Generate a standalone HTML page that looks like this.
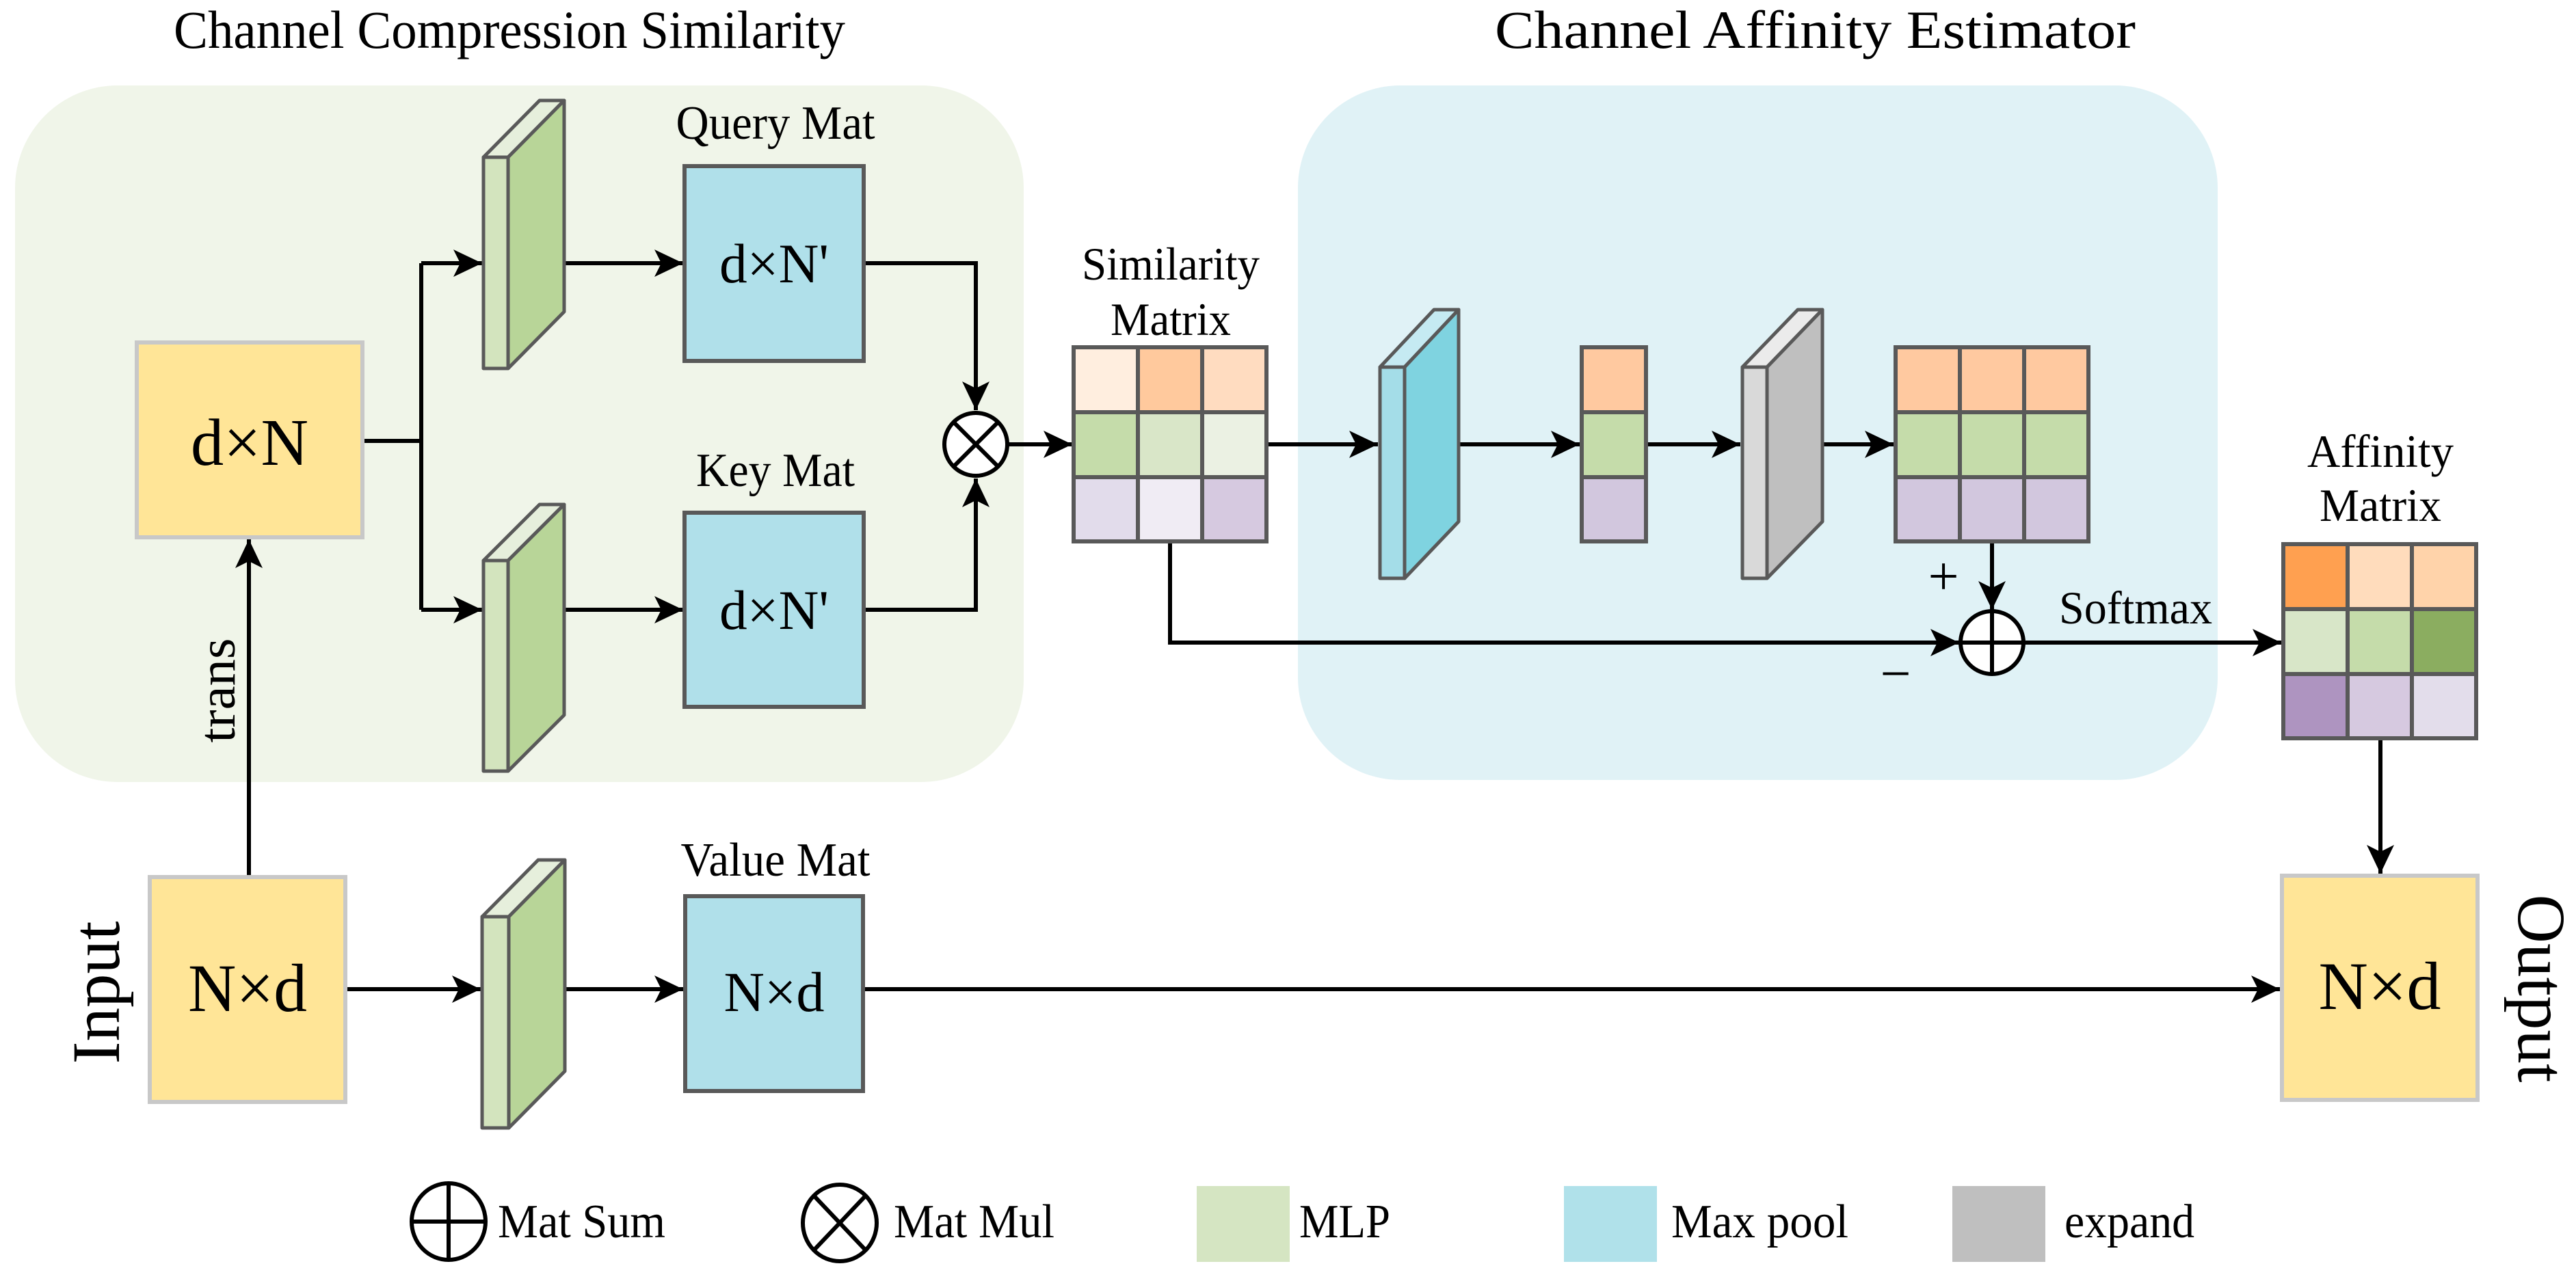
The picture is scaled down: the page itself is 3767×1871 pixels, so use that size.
<!DOCTYPE html>
<html><head><meta charset="utf-8"><style>
html,body{margin:0;padding:0;background:#fff}
svg{display:block}
text{font-family:"Liberation Serif","Times New Roman",Times,serif;fill:#000}
</style></head><body>
<svg width="3767" height="1871" viewBox="0 0 3767 1871" xmlns="http://www.w3.org/2000/svg" font-family="Liberation Serif, Times New Roman, serif">
<defs>
<marker id="ah" markerUnits="userSpaceOnUse" markerWidth="60" markerHeight="60" refX="44" refY="22" orient="auto">
<path d="M44,22 L2,2 L12,22 L2,42 Z" fill="#000"/>
</marker>
</defs>
<rect x="22" y="125" width="1475" height="1019" rx="150" fill="#F0F5E9"/>
<rect x="1898" y="125" width="1345" height="1016" rx="150" fill="#E0F2F6"/>
<text x="254" y="70" font-size="78" textLength="982" lengthAdjust="spacingAndGlyphs">Channel Compression Similarity</text>
<text x="2186" y="70" font-size="78" textLength="937" lengthAdjust="spacingAndGlyphs">Channel Affinity Estimator</text>

<g stroke="#000" stroke-width="6" fill="none">
<polyline points="530,645 616,645"/>
<polyline points="616,385 616,892"/>
<line x1="616" y1="385" x2="705" y2="385" marker-end="url(#ah)"/>
<line x1="616" y1="892" x2="705" y2="892" marker-end="url(#ah)"/>
<line x1="825" y1="385" x2="999" y2="385" marker-end="url(#ah)"/>
<line x1="825" y1="892" x2="999" y2="892" marker-end="url(#ah)"/>
<polyline points="1263,385 1427,385 1427,600" marker-end="url(#ah)"/>
<polyline points="1263,892 1427,892 1427,700" marker-end="url(#ah)"/>
<line x1="1474" y1="650" x2="1568" y2="650" marker-end="url(#ah)"/>
<line x1="1852" y1="650" x2="2015" y2="650" marker-end="url(#ah)"/>
<line x1="2133" y1="650" x2="2310" y2="650" marker-end="url(#ah)"/>
<line x1="2407" y1="650" x2="2545" y2="650" marker-end="url(#ah)"/>
<line x1="2665" y1="650" x2="2769" y2="650" marker-end="url(#ah)"/>
<line x1="2913" y1="792" x2="2913" y2="892" marker-end="url(#ah)"/>
<polyline points="1711,792 1711,940 2865,940" marker-end="url(#ah)"/>
<line x1="2960" y1="940" x2="3336" y2="940" marker-end="url(#ah)"/>
<line x1="3481" y1="1080" x2="3481" y2="1278" marker-end="url(#ah)"/>
<line x1="505" y1="1447" x2="703" y2="1447" marker-end="url(#ah)"/>
<line x1="826" y1="1447" x2="999" y2="1447" marker-end="url(#ah)"/>
<line x1="1262" y1="1447" x2="3334" y2="1447" marker-end="url(#ah)"/>
<line x1="364" y1="1283" x2="364" y2="789" marker-end="url(#ah)"/>
</g>

<g stroke-width="6">
<rect x="200" y="501" width="330" height="285" fill="#FFE597" stroke="#C8C8C8"/>
<rect x="219" y="1283" width="286" height="329" fill="#FFE597" stroke="#C8C8C8"/>
<rect x="3337" y="1281" width="286" height="328" fill="#FFE597" stroke="#C8C8C8"/>
<rect x="1001" y="243" width="262" height="285" fill="#B0E0EA" stroke="#595959"/>
<rect x="1001" y="750" width="262" height="284" fill="#B0E0EA" stroke="#595959"/>
<rect x="1002" y="1311" width="260" height="285" fill="#B0E0EA" stroke="#595959"/>
</g>

<g stroke="#595959" stroke-width="5" stroke-linejoin="round">
<polygon points="707,230 743,230 825,147 789,147" fill="#E6EFDC"/>
<polygon points="743,230 825,147 825,456 743,539" fill="#B8D598"/>
<rect x="707" y="230" width="36" height="309" fill="#D3E4BE"/>
<polygon points="707,820 743,820 825,738 789,738" fill="#E6EFDC"/>
<polygon points="743,820 825,738 825,1046 743,1128" fill="#B8D598"/>
<rect x="707" y="820" width="36" height="308" fill="#D3E4BE"/>
<polygon points="705,1341 744,1341 826,1258 787,1258" fill="#E6EFDC"/>
<polygon points="744,1341 826,1258 826,1567 744,1650" fill="#B8D598"/>
<rect x="705" y="1341" width="39" height="309" fill="#D3E4BE"/>
<polygon points="2018,537 2054,537 2133,453 2097,453" fill="#C5EAF2"/>
<polygon points="2054,537 2133,453 2133,763 2054,846" fill="#7FD3E0"/>
<rect x="2018" y="537" width="36" height="309" fill="#A4DDE8"/>
<polygon points="2548,537 2584,537 2665,453 2629,453" fill="#EBEBEB"/>
<polygon points="2584,537 2665,453 2665,763 2584,846" fill="#BFBFBF"/>
<rect x="2548" y="537" width="36" height="309" fill="#D9D9D9"/>
</g>

<g stroke="#595959" stroke-width="6">
<rect x="1570" y="508" width="94" height="95" fill="#FFEEDF"/><rect x="1664" y="508" width="94" height="95" fill="#FFC99D"/><rect x="1758" y="508" width="94" height="95" fill="#FFDCC0"/>
<rect x="1570" y="603" width="94" height="95" fill="#C5DCAA"/><rect x="1664" y="603" width="94" height="95" fill="#D9E6C8"/><rect x="1758" y="603" width="94" height="95" fill="#EBF1E3"/>
<rect x="1570" y="698" width="94" height="94" fill="#E2DCEB"/><rect x="1664" y="698" width="94" height="94" fill="#F0ECF4"/><rect x="1758" y="698" width="94" height="94" fill="#D6C9E0"/>
<rect x="2313" y="508" width="94" height="95" fill="#FFC9A0"/>
<rect x="2313" y="603" width="94" height="95" fill="#C5DCAA"/>
<rect x="2313" y="698" width="94" height="94" fill="#D2C7DE"/>
<rect x="2772" y="508" width="94" height="95" fill="#FFC9A0"/><rect x="2866" y="508" width="94" height="95" fill="#FFC9A0"/><rect x="2960" y="508" width="94" height="95" fill="#FFC9A0"/>
<rect x="2772" y="603" width="94" height="95" fill="#C5DCAA"/><rect x="2866" y="603" width="94" height="95" fill="#C5DCAA"/><rect x="2960" y="603" width="94" height="95" fill="#C5DCAA"/>
<rect x="2772" y="698" width="94" height="94" fill="#D2C7DE"/><rect x="2866" y="698" width="94" height="94" fill="#D2C7DE"/><rect x="2960" y="698" width="94" height="94" fill="#D2C7DE"/>
<rect x="3339" y="796" width="94" height="95" fill="#FFA050"/><rect x="3433" y="796" width="94" height="95" fill="#FFDCBC"/><rect x="3527" y="796" width="94" height="95" fill="#FFD3AA"/>
<rect x="3339" y="891" width="94" height="95" fill="#D8E6C8"/><rect x="3433" y="891" width="94" height="95" fill="#C5DCAA"/><rect x="3527" y="891" width="94" height="95" fill="#8BAD60"/>
<rect x="3339" y="986" width="94" height="94" fill="#AE94C0"/><rect x="3433" y="986" width="94" height="94" fill="#D6C9E0"/><rect x="3527" y="986" width="94" height="94" fill="#E3DDEB"/>
</g>

<g stroke="#000" stroke-width="6" fill="#fff">
<circle cx="1427" cy="650" r="46"/>
<line x1="1394" y1="617" x2="1460" y2="683"/><line x1="1460" y1="617" x2="1394" y2="683"/>
<circle cx="2913" cy="940" r="46"/>
<line x1="2867" y1="940" x2="2959" y2="940"/><line x1="2913" y1="894" x2="2913" y2="986"/>
<ellipse cx="656" cy="1787" rx="54" ry="56"/>
<line x1="602" y1="1787" x2="710" y2="1787"/><line x1="656" y1="1731" x2="656" y2="1843"/>
<ellipse cx="1228" cy="1789" rx="54" ry="56"/>
<line x1="1190" y1="1749" x2="1266" y2="1829"/><line x1="1266" y1="1749" x2="1190" y2="1829"/>
</g>
<rect x="1750" y="1735" width="136" height="111" fill="#D5E5C2"/>
<rect x="2287" y="1735" width="136" height="111" fill="#B0E1EA"/>
<rect x="2855" y="1735" width="136" height="111" fill="#BFBFBF"/>

<g text-anchor="middle" lengthAdjust="spacingAndGlyphs">
<text x="365" y="680" font-size="98" textLength="172" lengthAdjust="spacingAndGlyphs">d×N</text>
<text x="1132" y="413" font-size="82" textLength="160" lengthAdjust="spacingAndGlyphs">d×N'</text>
<text x="1132" y="920" font-size="82" textLength="160" lengthAdjust="spacingAndGlyphs">d×N'</text>
<text x="1132" y="1479" font-size="83" textLength="147" lengthAdjust="spacingAndGlyphs">N×d</text>
<text x="362" y="1479" font-size="100" textLength="174" lengthAdjust="spacingAndGlyphs">N×d</text>
<text x="3480" y="1476" font-size="100" textLength="179" lengthAdjust="spacingAndGlyphs">N×d</text>
<text x="1134" y="203" font-size="70" textLength="291" lengthAdjust="spacingAndGlyphs">Query Mat</text>
<text x="1134" y="711" font-size="70" textLength="232" lengthAdjust="spacingAndGlyphs">Key Mat</text>
<text x="1134" y="1281" font-size="70" textLength="277" lengthAdjust="spacingAndGlyphs">Value Mat</text>
<text x="1712" y="409" font-size="68" textLength="260" lengthAdjust="spacingAndGlyphs">Similarity</text>
<text x="1712" y="490" font-size="68" textLength="176" lengthAdjust="spacingAndGlyphs">Matrix</text>
<text x="3481" y="683" font-size="68" textLength="214" lengthAdjust="spacingAndGlyphs">Affinity</text>
<text x="3481" y="762" font-size="68" textLength="178" lengthAdjust="spacingAndGlyphs">Matrix</text>
<text transform="translate(174,1452) rotate(-90)" font-size="100" textLength="209" lengthAdjust="spacingAndGlyphs">Input</text>
<text transform="translate(3683,1446) rotate(90)" font-size="100" textLength="275" lengthAdjust="spacingAndGlyphs">Output</text>
<text transform="translate(343,1010) rotate(-90)" font-size="76" textLength="153" lengthAdjust="spacingAndGlyphs">trans</text>
<text x="2842" y="870" font-size="80">+</text>
<text x="2772" y="1012" font-size="80">−</text>
</g>
<text x="3011" y="912" font-size="68" textLength="224" lengthAdjust="spacingAndGlyphs">Softmax</text>
<g font-size="70">
<text x="728" y="1810" textLength="245" lengthAdjust="spacingAndGlyphs">Mat Sum</text>
<text x="1307" y="1810" textLength="235" lengthAdjust="spacingAndGlyphs">Mat Mul</text>
<text x="1900" y="1810" textLength="133" lengthAdjust="spacingAndGlyphs">MLP</text>
<text x="2444" y="1810" textLength="259" lengthAdjust="spacingAndGlyphs">Max pool</text>
<text x="3019" y="1810" textLength="190" lengthAdjust="spacingAndGlyphs">expand</text>
</g>
</svg>
</body></html>
